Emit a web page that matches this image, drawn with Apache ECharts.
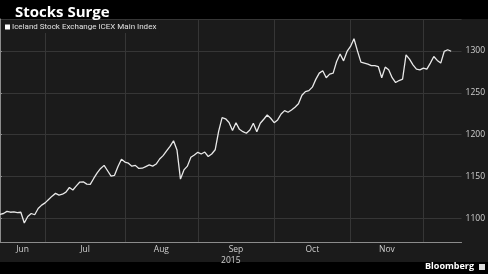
<!DOCTYPE html>
<html><head><meta charset="utf-8">
<script src="https://cdn.jsdelivr.net/npm/echarts@6/dist/echarts.min.js"></script>
<style>html,body{margin:0;padding:0;background:#1b1b1b}#c{width:488px;height:274px}</style>
</head><body><div id="c"></div>
<script>
const chartTitle = 'Stocks Surge';
const seriesName = 'Iceland Stock Exchange ICEX Main Index';
const months = ['Jun', 'Jul', 'Aug', 'Sep', 'Oct', 'Nov', 'Dec'];
const tradingDays = [13, 23, 21, 22, 22, 21, 12];
const labeledMonths = ['Jun', 'Jul', 'Aug', 'Sep', 'Oct', 'Nov'];
const yearLabel = '2015';
const icexValues = [
  1105, 1106, 1108.5, 1107.5, 1108, 1107, 1107.5, 1094.7, 1102.5, 1106,
  1104.5, 1112, 1116, 1118.7, 1122.7, 1126.7, 1130, 1128, 1129, 1131.5,
  1137, 1134, 1139, 1143.5, 1143.8, 1141, 1140.7, 1147.8, 1154.5, 1159.8,
  1163.4, 1157, 1150.6, 1151.5, 1162, 1170.6, 1167.3, 1166, 1162.5, 1163.4,
  1159.8, 1160, 1162, 1164, 1162.5, 1165, 1171, 1175, 1180.8, 1186,
  1192.8, 1181.7, 1147, 1158, 1162.5, 1173, 1175.7, 1179, 1177, 1179.3,
  1174, 1177, 1182, 1204, 1220.3, 1219, 1214.5, 1205, 1214.3, 1206.4,
  1203.6, 1201.7, 1205.6, 1213.6, 1203.6, 1213.6, 1218.4, 1223.5, 1219.6, 1214.3,
  1217.6, 1224.7, 1228.7, 1226.8, 1229.5, 1232.8, 1237, 1247, 1251.4, 1252.6,
  1256.7, 1266, 1273.4, 1276.2, 1268, 1272.2, 1273.4, 1287.3, 1296.2, 1288.1,
  1299.3, 1305.3, 1314.4, 1300, 1286.6, 1285.4, 1284.2, 1282.5, 1282.5, 1281.3,
  1268, 1280.6, 1277.4, 1268, 1262.2, 1264.6, 1266.2, 1295.3, 1290.2, 1283.3,
  1278.2, 1277.4, 1279.4, 1278.2, 1285.4, 1293.3, 1288.6, 1285.4, 1299.3, 1301.3,
  1299.5
];

// build category list (one per trading day) and month boundaries
const categories = [];
const monthStarts = [];
months.forEach((m, mi) => {
  monthStarts.push(categories.length);
  for (let k = 0; k < tradingDays[mi]; k++) categories.push(m + ' ' + (k + 1));
});
const boundarySet = new Set(monthStarts.slice(1));
const labelPos = labeledMonths.map((m, i) => (monthStarts[i] + monthStarts[i + 1]) / 2);
const lastIdx = categories.length - 1;

const FONT = 'Open Sans, DejaVu Sans, sans-serif';
const SMALL = 'Roboto, Open Sans, sans-serif';
const chart = echarts.init(document.getElementById('c'));
chart.setOption({
  backgroundColor: '#1b1b1b',
  animation: false,
  title: {
    text: chartTitle, left: 10, top: 0,
    textStyle: { color: '#ffffff', fontSize: 15, fontWeight: 'bold', fontFamily: FONT }
  },
  legend: {
    left: 2, top: 21, icon: 'rect', itemWidth: 5, itemHeight: 5, itemGap: 4,
    backgroundColor: '#1b1b1b', padding: [2, 3],
    textStyle: { color: '#e0e0e0', fontSize: 8, fontFamily: SMALL, padding: [0, 0, 0, -3] },
    data: [seriesName]
  },
  graphic: [
    { type: 'rect', left: 0, top: 0, shape: { width: 488, height: 19 }, style: { fill: '#000' }, z: 0 },
    { type: 'rect', left: 0, top: 262, shape: { width: 488, height: 12 }, style: { fill: '#000' }, z: 0 },
    { type: 'text', right: 14, top: 262, style: { text: 'Bloomberg', fill: '#fff', font: 'bold 9px ' + FONT }, z: 1 },
    { type: 'rect', left: 479, top: 264, shape: { width: 6, height: 6 }, style: { fill: '#ddd' }, z: 1 }
  ],
  grid: { left: 0, right: 25, top: 19, bottom: 32, containLabel: false },
  xAxis: [
    {
      type: 'category', data: categories, boundaryGap: false,
      axisLine: { show: true, lineStyle: { color: '#8c8c8c', width: 1 } },
      axisTick: { show: false },
      axisLabel: { show: false },
      splitLine: { show: true, interval: (i) => boundarySet.has(i), lineStyle: { color: '#363636', width: 1 } }
    },
    {
      type: 'value', min: 0, max: lastIdx, position: 'bottom',
      axisLine: { show: false }, axisTick: { show: false }, splitLine: { show: false },
      axisLabel: {
        show: true, customValues: labelPos, margin: 3,
        color: '#cfcfcf', fontSize: 8.5, fontFamily: FONT,
        formatter: (v) => { const i = labelPos.indexOf(v); return i >= 0 ? labeledMonths[i] : ''; }
      },
      name: yearLabel, nameLocation: 'middle', nameGap: 14, nameMoveOverlap: false,
      nameTextStyle: { color: '#cfcfcf', fontSize: 8.5, fontFamily: FONT }
    }
  ],
  yAxis: {
    type: 'value', position: 'right', min: 1072, max: 1338, scale: true,
    axisLine: { show: true, lineStyle: { color: '#8c8c8c', width: 1 } },
    axisTick: { show: true, length: 2, lineStyle: { color: '#8c8c8c' } },
    axisLabel: {
      color: '#cfcfcf', fontSize: 8.5, fontFamily: FONT, margin: 4,
      showMinLabel: false, showMaxLabel: false,
      formatter: (v) => String(v)
    },
    splitLine: { show: true, lineStyle: { color: '#363636', width: 1 } }
  },
  series: [{
    name: seriesName, type: 'line', xAxisIndex: 0, data: icexValues,
    symbol: 'none', itemStyle: { color: '#ffffff' },
    lineStyle: { color: '#e8e8e8', width: 1.3 }
  }]
});
</script></body></html>
